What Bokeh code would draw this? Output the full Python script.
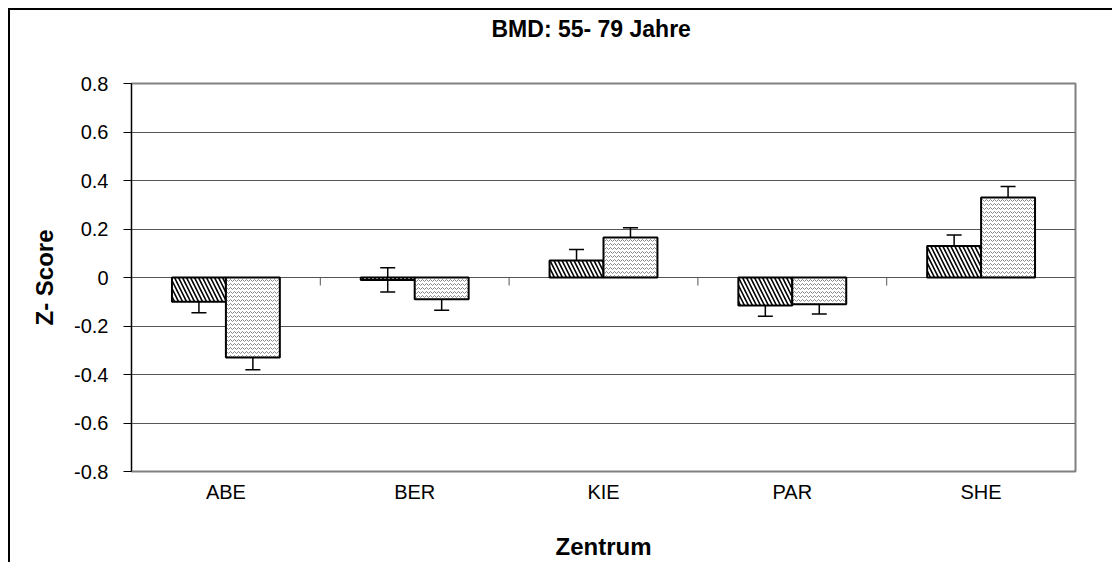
from bokeh.plotting import figure
from bokeh.models import ColumnDataSource, Range1d, FixedTicker, Whisker, TeeHead, Title
from bokeh.embed import file_html
from bokeh.resources import INLINE

categories = ["ABE", "BER", "KIE", "PAR", "SHE"]
series1 = [-0.10, -0.01, 0.07, -0.115, 0.13]
err1 = [0.045, 0.05, 0.045, 0.045, 0.045]
series2 = [-0.33, -0.09, 0.165, -0.11, 0.33]
err2 = [0.05, 0.045, 0.04, 0.04, 0.045]
y_ticks = [-0.8, -0.6, -0.4, -0.2, 0.0, 0.2, 0.4, 0.6, 0.8]
title_text = "BMD: 55- 79 Jahre"

FONT = "Liberation Sans"
n = len(categories)
centers = [i + 0.5 for i in range(n)]
bw = 1 / 3.5
off = bw / 2

s1 = ColumnDataSource(dict(x=[c - off for c in centers], top=series1,
                           upper=[v + e for v, e in zip(series1, err1)],
                           lower=[v - e for v, e in zip(series1, err1)]))
s2 = ColumnDataSource(dict(x=[c + off for c in centers], top=series2,
                           upper=[v + e for v, e in zip(series2, err2)],
                           lower=[v - e for v, e in zip(series2, err2)]))

p = figure(width=1104, height=554, output_backend="svg", toolbar_location=None,
           x_range=Range1d(0, n), y_range=Range1d(-0.8, 0.8),
           min_border_left=121, min_border_right=39, min_border_top=73, min_border_bottom=93,
           title=title_text)
p.styles = {"border-top": "2px solid black", "border-left": "2px solid black",
            "margin-left": "8px", "margin-top": "8px"}

# spacer between title and plot area
p.add_layout(Title(text=" ", text_font=FONT, text_font_size="20px", standoff=18), "above")

p.title.align = "left"
p.title.offset = 360
p.title.standoff = 0
p.title.text_font = FONT
p.title.text_font_size = "23px"
p.title.text_font_style = "bold"
p.title.text_color = "black"

p.outline_line_color = "#808080"
p.outline_line_width = 2

# axes
p.yaxis.ticker = FixedTicker(ticks=y_ticks)
p.yaxis.major_label_overrides = {t: f"{t:g}" for t in y_ticks}
p.yaxis.minor_tick_line_color = None
p.yaxis.major_tick_in = 0
p.yaxis.major_tick_out = 8
p.yaxis.major_tick_line_color = "black"
p.yaxis.axis_line_color = "black"
p.yaxis.major_label_standoff = 15
p.yaxis.major_label_text_font = FONT
p.yaxis.major_label_text_font_size = "20px"
p.yaxis.major_label_text_color = "black"
p.yaxis.axis_label = "Z- Score"
p.yaxis.axis_label_text_font = FONT
p.yaxis.axis_label_text_font_size = "24px"
p.yaxis.axis_label_text_font_style = "bold"
p.yaxis.axis_label_text_color = "black"
p.yaxis.axis_label_standoff = 13

p.xaxis.ticker = FixedTicker(ticks=centers)
p.xaxis.major_label_overrides = {c: cat for c, cat in zip(centers, categories)}
p.xaxis.minor_tick_line_color = None
p.xaxis.major_tick_line_color = None
p.xaxis.axis_line_color = None
p.xaxis.major_label_standoff = 3
p.xaxis.major_label_text_font = FONT
p.xaxis.major_label_text_font_size = "20px"
p.xaxis.major_label_text_color = "black"
p.xaxis.axis_label = "Zentrum"
p.xaxis.axis_label_text_font = FONT
p.xaxis.axis_label_text_font_size = "24px"
p.xaxis.axis_label_text_font_style = "bold"
p.xaxis.axis_label_text_color = "black"
p.xaxis.axis_label_standoff = 27

p.xgrid.grid_line_color = None
p.ygrid.ticker = FixedTicker(ticks=y_ticks)
p.ygrid.grid_line_color = "#555555"
p.ygrid.grid_line_width = 1

# category boundary ticks on the zero line
bounds = [i for i in range(1, n)]
p.segment(x0=bounds, x1=bounds, y0=[0] * len(bounds), y1=[-0.033] * len(bounds),
          line_color="#555555", line_width=1)

# bars
p.vbar(x="x", top="top", bottom=0, width=bw, source=s1,
       fill_color="white", line_color="black", line_width=2,
       hatch_pattern="\\", hatch_color="black", hatch_scale=8, hatch_weight=1.6)
p.vbar(x="x", top="top", bottom=0, width=bw, source=s2,
       fill_color="white", line_color="black", line_width=2,
       hatch_pattern="v", hatch_color="#8a8a8a", hatch_scale=4, hatch_weight=1)

for src in (s1, s2):
    w = Whisker(base="x", upper="upper", lower="lower", source=src, dimension="height",
                line_color="black", line_width=1.5,
                upper_head=TeeHead(size=15, line_color="black", line_width=1.5),
                lower_head=TeeHead(size=15, line_color="black", line_width=1.5))
    p.add_layout(w)

open("out.html", "w").write(file_html(p, INLINE))
